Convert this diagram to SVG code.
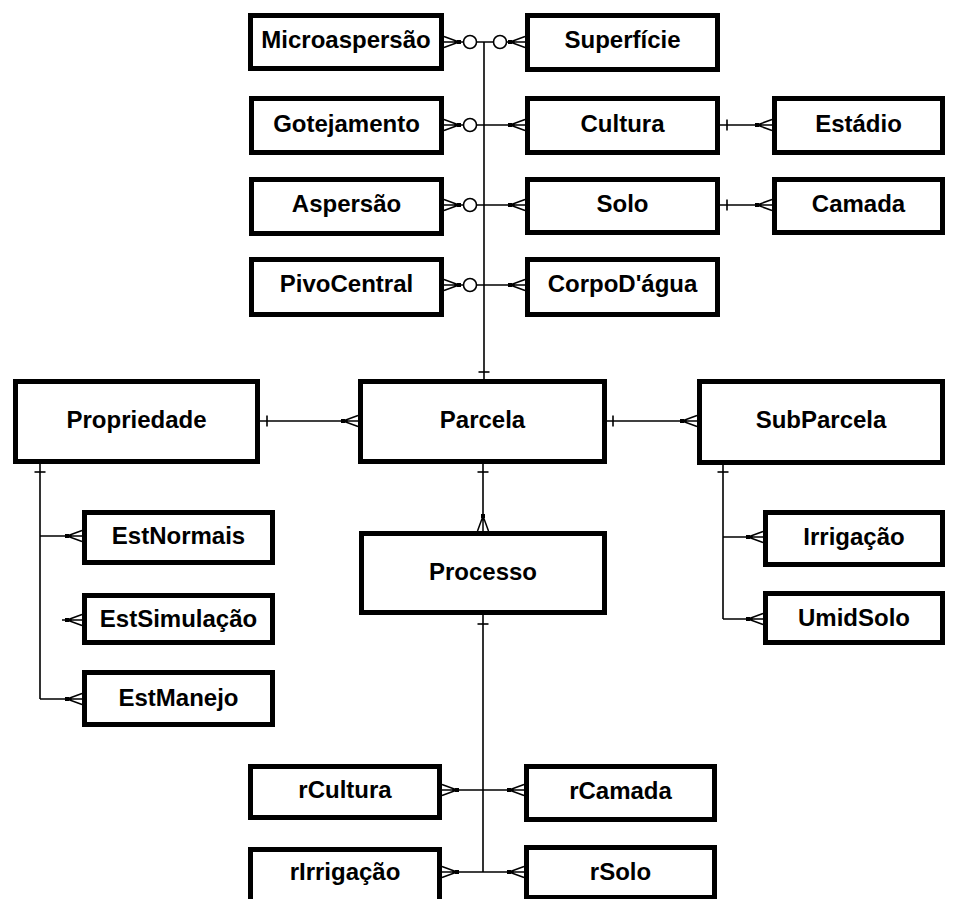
<svg xmlns="http://www.w3.org/2000/svg" xmlns:xlink="http://www.w3.org/1999/xlink" width="955" height="899" viewBox="0 0 955 899">
<style>
.box{fill:#fff;stroke:#000;stroke-width:5}
.lbl{font-family:"Liberation Sans",Arial,sans-serif;font-weight:bold;font-size:24px;fill:#000;text-anchor:middle}
.ln{fill:none;stroke:#000;stroke-width:1.6}
.circ{fill:#fff;stroke:#000;stroke-width:1.6}
</style>
<defs>
<g id="cf"><path d="M0,0 L15,-5.5 M0,0 H15 M0,0 L15,5.5" fill="none" stroke="#000" stroke-width="1.5"/><rect x="-2" y="-2" width="4" height="4" fill="#000"/></g>
<path id="tk" d="M0,-5.5 V5.5" fill="none" stroke="#000" stroke-width="1.6"/>
</defs>
<rect width="955" height="899" fill="#fff"/>
<g id="connectors">
<path class="ln" d="M484,42 V379"/>
<use xlink:href="#tk" transform="translate(484,372) rotate(90)"/>
<path class="ln" d="M459,42 H510"/>
<use xlink:href="#cf" transform="translate(459,42) rotate(180)"/>
<circle class="circ" cx="470" cy="42" r="6.5"/>
<circle class="circ" cx="500" cy="42" r="6.5"/>
<use xlink:href="#cf" transform="translate(510,42)"/>
<path class="ln" d="M459,125 H510"/>
<use xlink:href="#cf" transform="translate(459,125) rotate(180)"/>
<circle class="circ" cx="470" cy="125" r="6.5"/>
<use xlink:href="#cf" transform="translate(510,125)"/>
<path class="ln" d="M720,125 H757"/>
<use xlink:href="#tk" transform="translate(727,125)"/>
<use xlink:href="#cf" transform="translate(757,125)"/>
<path class="ln" d="M459,205 H510"/>
<use xlink:href="#cf" transform="translate(459,205) rotate(180)"/>
<circle class="circ" cx="470" cy="205" r="6.5"/>
<use xlink:href="#cf" transform="translate(510,205)"/>
<path class="ln" d="M720,205 H757"/>
<use xlink:href="#tk" transform="translate(727,205)"/>
<use xlink:href="#cf" transform="translate(757,205)"/>
<path class="ln" d="M459,285 H510"/>
<use xlink:href="#cf" transform="translate(459,285) rotate(180)"/>
<circle class="circ" cx="470" cy="285" r="6.5"/>
<use xlink:href="#cf" transform="translate(510,285)"/>
<path class="ln" d="M260,421 H343"/>
<use xlink:href="#tk" transform="translate(267,421)"/>
<use xlink:href="#cf" transform="translate(343,421)"/>
<path class="ln" d="M607,421 H682"/>
<use xlink:href="#tk" transform="translate(613,421)"/>
<use xlink:href="#cf" transform="translate(682,421)"/>
<path class="ln" d="M483,464 V516"/>
<use xlink:href="#tk" transform="translate(483,472) rotate(90)"/>
<use xlink:href="#cf" transform="translate(483,516) rotate(90)"/>
<path class="ln" d="M40,464 V699 M40,536 H67 M62,620 H67 M40,699 H67"/>
<use xlink:href="#tk" transform="translate(40,472) rotate(90)"/>
<use xlink:href="#cf" transform="translate(67,536)"/>
<use xlink:href="#cf" transform="translate(67,620)"/>
<use xlink:href="#cf" transform="translate(67,699)"/>
<path class="ln" d="M723,465 V619 M723,537 H748 M723,619 H748"/>
<use xlink:href="#tk" transform="translate(723,472) rotate(90)"/>
<use xlink:href="#cf" transform="translate(748,537)"/>
<use xlink:href="#cf" transform="translate(748,619)"/>
<path class="ln" d="M483,615 V872 M457,790 H509 M457,872 H509"/>
<use xlink:href="#tk" transform="translate(483,624) rotate(90)"/>
<use xlink:href="#cf" transform="translate(457,790) rotate(180)"/>
<use xlink:href="#cf" transform="translate(509,790)"/>
<use xlink:href="#cf" transform="translate(457,872) rotate(180)"/>
<use xlink:href="#cf" transform="translate(509,872)"/>
</g>
<g id="Microaspersao"><rect class="box" x="250.5" y="15.5" width="191" height="53"/><text class="lbl" x="346" y="48">Microaspersão</text></g>
<g id="Superficie"><rect class="box" x="527.5" y="15.5" width="190" height="54"/><text class="lbl" x="622.5" y="48">Superfície</text></g>
<g id="Gotejamento"><rect class="box" x="251.5" y="98.5" width="190" height="54"/><text class="lbl" x="346.5" y="132">Gotejamento</text></g>
<g id="Cultura"><rect class="box" x="527.5" y="98.5" width="190" height="54"/><text class="lbl" x="622.5" y="132">Cultura</text></g>
<g id="Estadio"><rect class="box" x="774.5" y="98.5" width="168" height="54"/><text class="lbl" x="858.5" y="132">Estádio</text></g>
<g id="Aspersao"><rect class="box" x="251.5" y="179.5" width="190" height="54"/><text class="lbl" x="346.5" y="212">Aspersão</text></g>
<g id="Solo"><rect class="box" x="527.5" y="179.5" width="190" height="53"/><text class="lbl" x="622.5" y="212">Solo</text></g>
<g id="Camada"><rect class="box" x="774.5" y="179.5" width="168" height="53"/><text class="lbl" x="858.5" y="212">Camada</text></g>
<g id="PivoCentral"><rect class="box" x="251.5" y="259.5" width="190" height="55"/><text class="lbl" x="346.5" y="292">PivoCentral</text></g>
<g id="CorpoDagua"><rect class="box" x="527.5" y="259.5" width="190" height="55"/><text class="lbl" x="622.5" y="292">CorpoD'água</text></g>
<g id="Propriedade"><rect class="box" x="15.5" y="381.5" width="242" height="80"/><text class="lbl" x="136.5" y="428">Propriedade</text></g>
<g id="Parcela"><rect class="box" x="360.5" y="381.5" width="244" height="80"/><text class="lbl" x="482.5" y="428">Parcela</text></g>
<g id="SubParcela"><rect class="box" x="699.5" y="381.5" width="243" height="81"/><text class="lbl" x="821" y="428">SubParcela</text></g>
<g id="Processo"><rect class="box" x="361.5" y="533.5" width="243" height="79"/><text class="lbl" x="483" y="580">Processo</text></g>
<g id="EstNormais"><rect class="box" x="84.5" y="512.5" width="188" height="50"/><text class="lbl" x="178.5" y="544">EstNormais</text></g>
<g id="EstSimulacao"><rect class="box" x="84.5" y="595.5" width="188" height="47"/><text class="lbl" x="178.5" y="627">EstSimulação</text></g>
<g id="EstManejo"><rect class="box" x="84.5" y="672.5" width="188" height="52"/><text class="lbl" x="178.5" y="706">EstManejo</text></g>
<g id="Irrigacao"><rect class="box" x="765.5" y="512.5" width="177" height="52"/><text class="lbl" x="854" y="545">Irrigação</text></g>
<g id="UmidSolo"><rect class="box" x="765.5" y="593.5" width="177" height="49"/><text class="lbl" x="854" y="626">UmidSolo</text></g>
<g id="rCultura"><rect class="box" x="250.5" y="766.5" width="189" height="51"/><text class="lbl" x="345" y="798">rCultura</text></g>
<g id="rCamada"><rect class="box" x="526.5" y="766.5" width="188" height="53"/><text class="lbl" x="620.5" y="799">rCamada</text></g>
<g id="rIrrigacao"><rect class="box" x="250.5" y="849.5" width="189" height="55"/><text class="lbl" x="345" y="880">rIrrigação</text></g>
<g id="rSolo"><rect class="box" x="526.5" y="847.5" width="188" height="50"/><text class="lbl" x="620.5" y="880">rSolo</text></g>
</svg>
